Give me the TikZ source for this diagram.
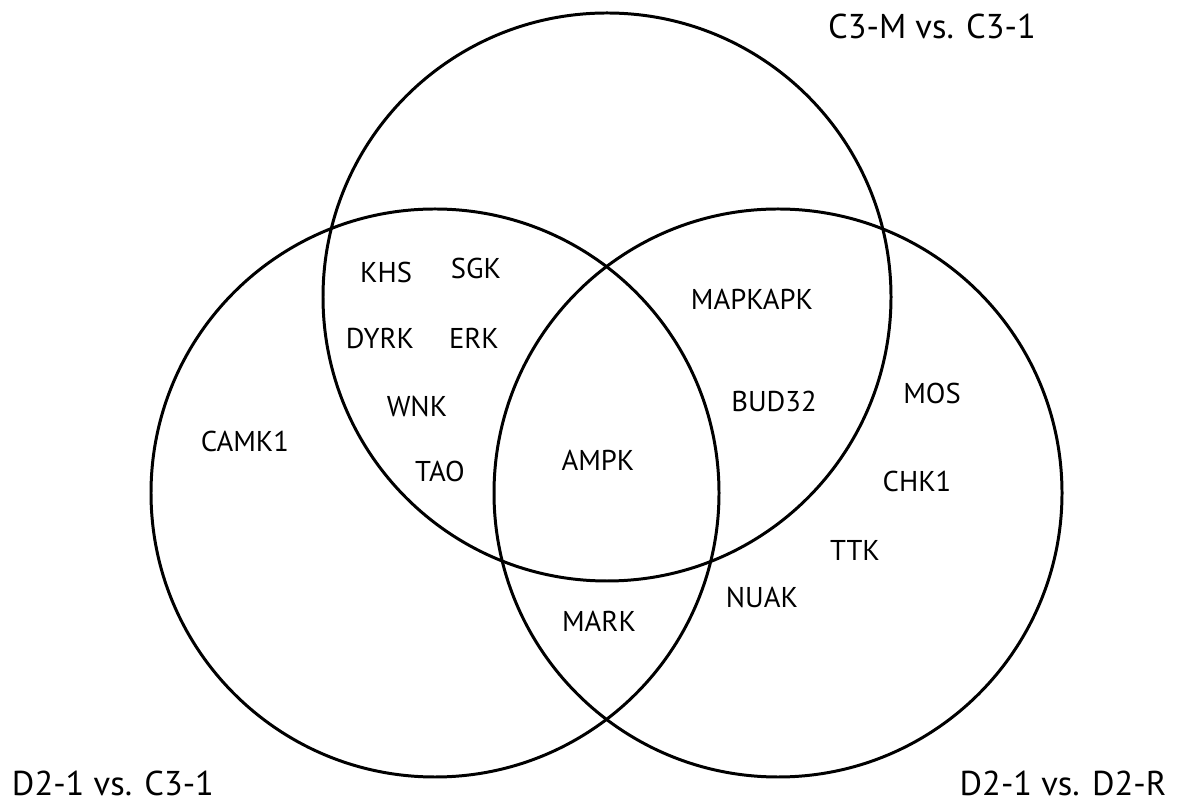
\documentclass[tikz,border=0pt]{standalone}
\usepackage{fontspec}
\setmainfont{PT Sans}
\usetikzlibrary{positioning}

\begin{document}
\begin{tikzpicture}[
    set/.style={draw, circle, minimum size=11.36cm, line width=1.7pt, inner sep=0pt},
    kin/.style={font=\fontsize{16.3}{19}\selectfont, inner sep=1pt},
    title/.style={font=\fontsize{19.6}{23}\selectfont, inner sep=1pt}
]
\useasboundingbox (0,0) rectangle (23.7,16.08);

% the three sets
\node[set] (cthree) at (12.14,10.14) {};
\node[set] (dtwoc) at (8.70,6.22) {};
\node[set] (dtwor) at (15.56,6.22) {};

% set names
\node[title] (tcthree) at (18.64,15.56) {C3-M vs. C3-1};
\node[title] (tdtwoc) at (2.26,0.42) {D2-1 vs. C3-1};
\node[title] (tdtwor) at (21.26,0.42) {D2-1 vs. D2-R};

% kinase families
\node[kin] (khs) at (7.72,10.64) {KHS};
\node[kin] (sgk) at (9.52,10.72) {SGK};
\node[kin] (dyrk) at (7.60,9.32) {DYRK};
\node[kin] (erk) at (9.48,9.32) {ERK};
\node[kin] (wnk) at (8.34,7.96) {WNK};
\node[kin] (tao) at (8.80,6.66) {TAO};
\node[kin] (camk) at (4.90,7.26) {CAMK1};
\node[kin] (mapkapk) at (15.04,10.10) {MAPKAPK};
\node[kin] (bud) at (15.48,8.06) {BUD32};
\node[kin] (ampk) at (11.96,6.88) {AMPK};
\node[kin] (mark) at (11.98,3.66) {MARK};
\node[kin] (mos) at (18.64,8.22) {MOS};
\node[kin] (chk) at (18.34,6.46) {CHK1};
\node[kin] (ttk) at (17.10,5.08) {TTK};
\node[kin] (nuak) at (15.24,4.14) {NUAK};
\end{tikzpicture}
\end{document}
